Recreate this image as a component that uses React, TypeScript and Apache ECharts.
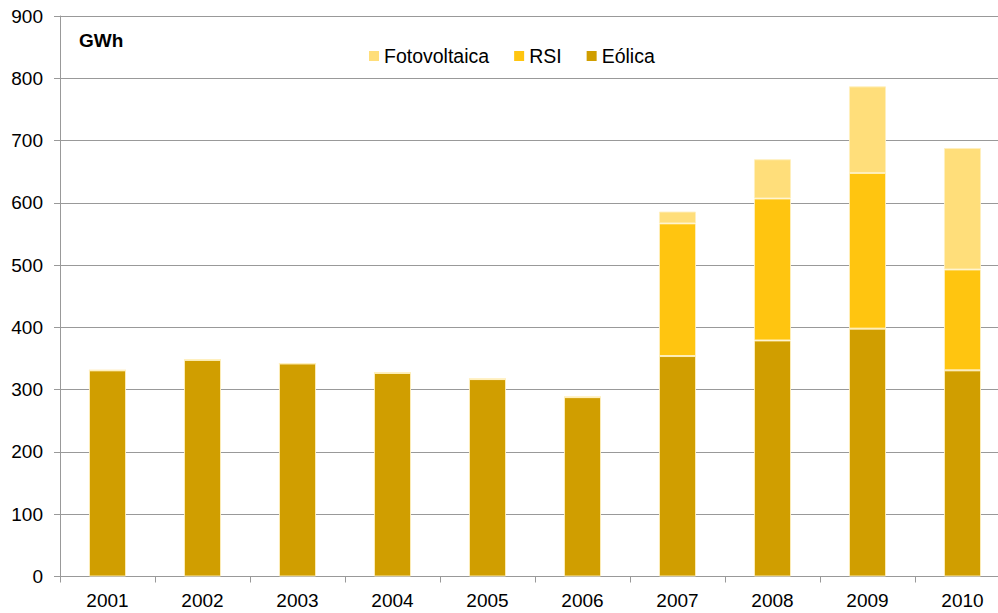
import React, { useEffect, useRef } from "react";
import * as echarts from "echarts";

const years = ["2001", "2002", "2003", "2004", "2005", "2006", "2007", "2008", "2009", "2010"];
const eolica = [331, 348, 342, 327, 317, 288, 354, 379, 398, 331];
const rsi = [0, 0, 0, 0, 0, 0, 213, 228, 250, 162];
const fotovoltaica = [0, 0, 0, 0, 0, 0, 19, 63, 139, 195];

const FONT = "'Liberation Sans', Arial, sans-serif";

export default function App() {
  const ref = useRef<HTMLDivElement>(null);
  useEffect(() => {
    document.body.style.margin = "0";
    const chart = echarts.init(ref.current!, null, { renderer: "svg" });
    const barStyle = (color: string) => ({
      color,
      borderColor: "rgba(255,240,190,0.9)",
      borderWidth: 1,
    });
    chart.setOption({
      animation: false,
      backgroundColor: "#fff",
      textStyle: { fontFamily: FONT },
      grid: { left: 60, right: 0, top: 16, bottom: 36.5, containLabel: false },
      legend: {
        data: ["Fotovoltaica", "RSI", "Eólica"],
        left: 364,
        top: 40,
        itemWidth: 10,
        itemHeight: 10,
        itemGap: 25,
        icon: "rect",
        itemStyle: { borderWidth: 0 },
        textStyle: { fontSize: 19.5, color: "#000", fontFamily: FONT, lineHeight: 22 },
        selectedMode: false,
      },
      graphic: [
        {
          type: "text",
          left: 79,
          top: 31,
          style: { text: "GWh", font: "bold 19px " + FONT, fill: "#000" },
        },
      ],
      xAxis: {
        type: "category",
        data: years,
        axisLine: { lineStyle: { color: "#999999", width: 1 } },
        axisTick: { show: true, length: 6, alignWithLabel: false, lineStyle: { color: "#999999" } },
        axisLabel: { fontSize: 19, color: "#000", margin: 14, fontFamily: FONT },
      },
      yAxis: {
        type: "value",
        min: 0,
        max: 900,
        interval: 100,
        axisLine: { show: true, lineStyle: { color: "#999999", width: 1 } },
        axisTick: { show: true, length: 6, lineStyle: { color: "#999999" } },
        axisLabel: { fontSize: 19, color: "#000", margin: 17, fontFamily: FONT },
        splitLine: { lineStyle: { color: "#999999", width: 1 } },
      },
      series: [
        {
          name: "Eólica",
          type: "bar",
          stack: "total",
          data: eolica,
          barWidth: "39%",
          itemStyle: barStyle("#D09E00"),
        },
        {
          name: "RSI",
          type: "bar",
          stack: "total",
          data: rsi,
          barWidth: "39%",
          itemStyle: barStyle("#FFC510"),
        },
        {
          name: "Fotovoltaica",
          type: "bar",
          stack: "total",
          data: fotovoltaica,
          barWidth: "39%",
          itemStyle: barStyle("#FFDE7A"),
        },
      ],
    });
    return () => chart.dispose();
  }, []);
  return (
    <div style={{ width: 998, height: 613, overflow: "hidden", position: "relative" }}>
      <div ref={ref} style={{ width: 1010, height: 613 }} />
    </div>
  );
}
